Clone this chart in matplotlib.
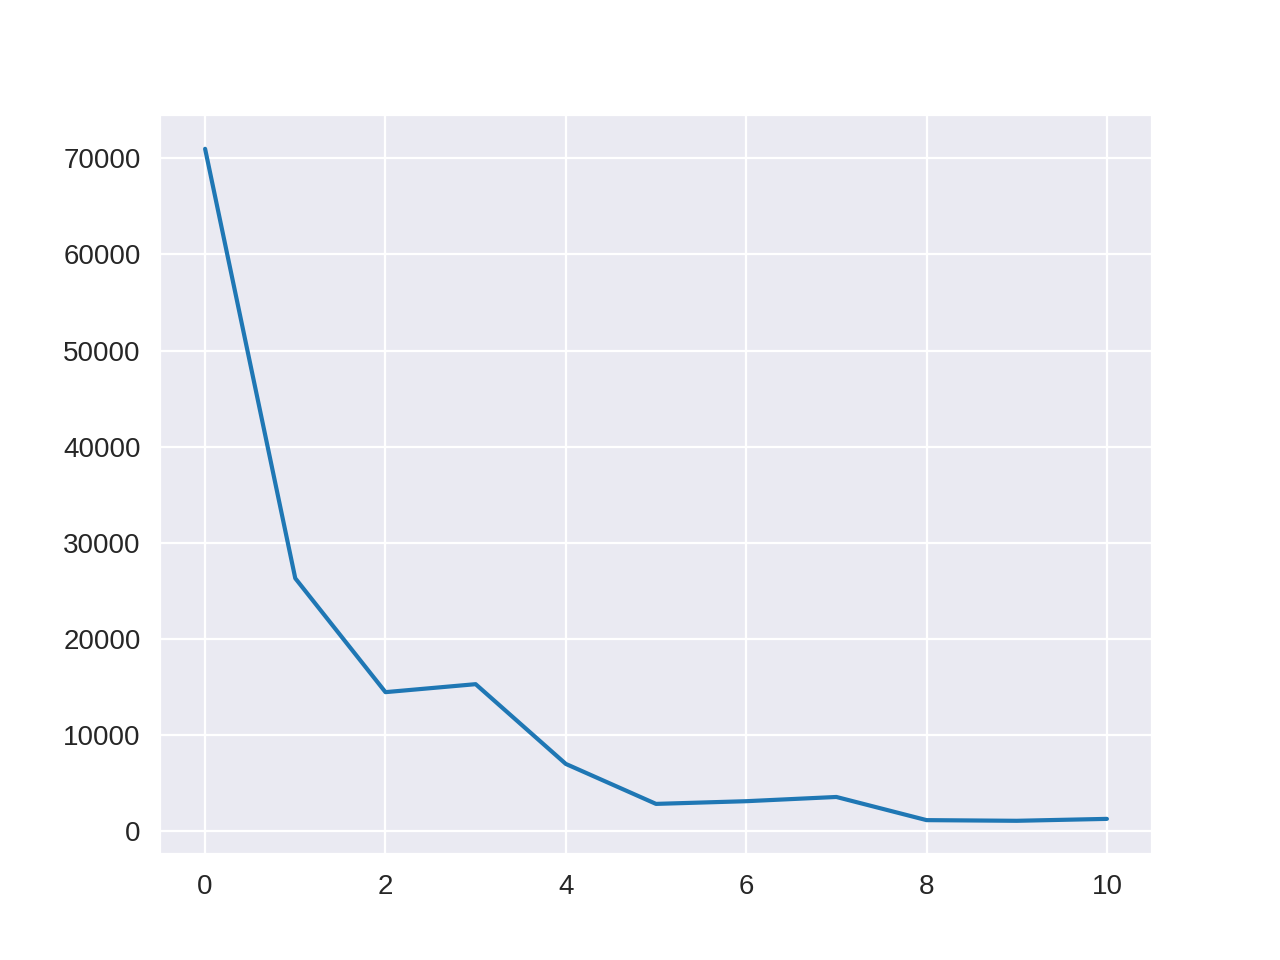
import matplotlib
matplotlib.use("Agg")
import matplotlib.pyplot as plt
import seaborn as sns

x_values = [0, 1, 2, 3, 4, 5, 6, 7, 8, 9, 10]
y_values = [71000, 26300, 14450, 15280, 6980, 2820, 3100, 3540, 1130, 1060, 1260]

sns.set_style("darkgrid")
# reference renders in Arial; Liberation Sans is the metric-compatible stand-in
plt.rcParams["font.family"] = ["Liberation Sans", "DejaVu Sans"]

fig, ax = plt.subplots(figsize=(6.4, 4.8))
ax.plot(x_values, y_values, color="#1f77b4")

plt.savefig("out.png", dpi=200)
plt.close()
